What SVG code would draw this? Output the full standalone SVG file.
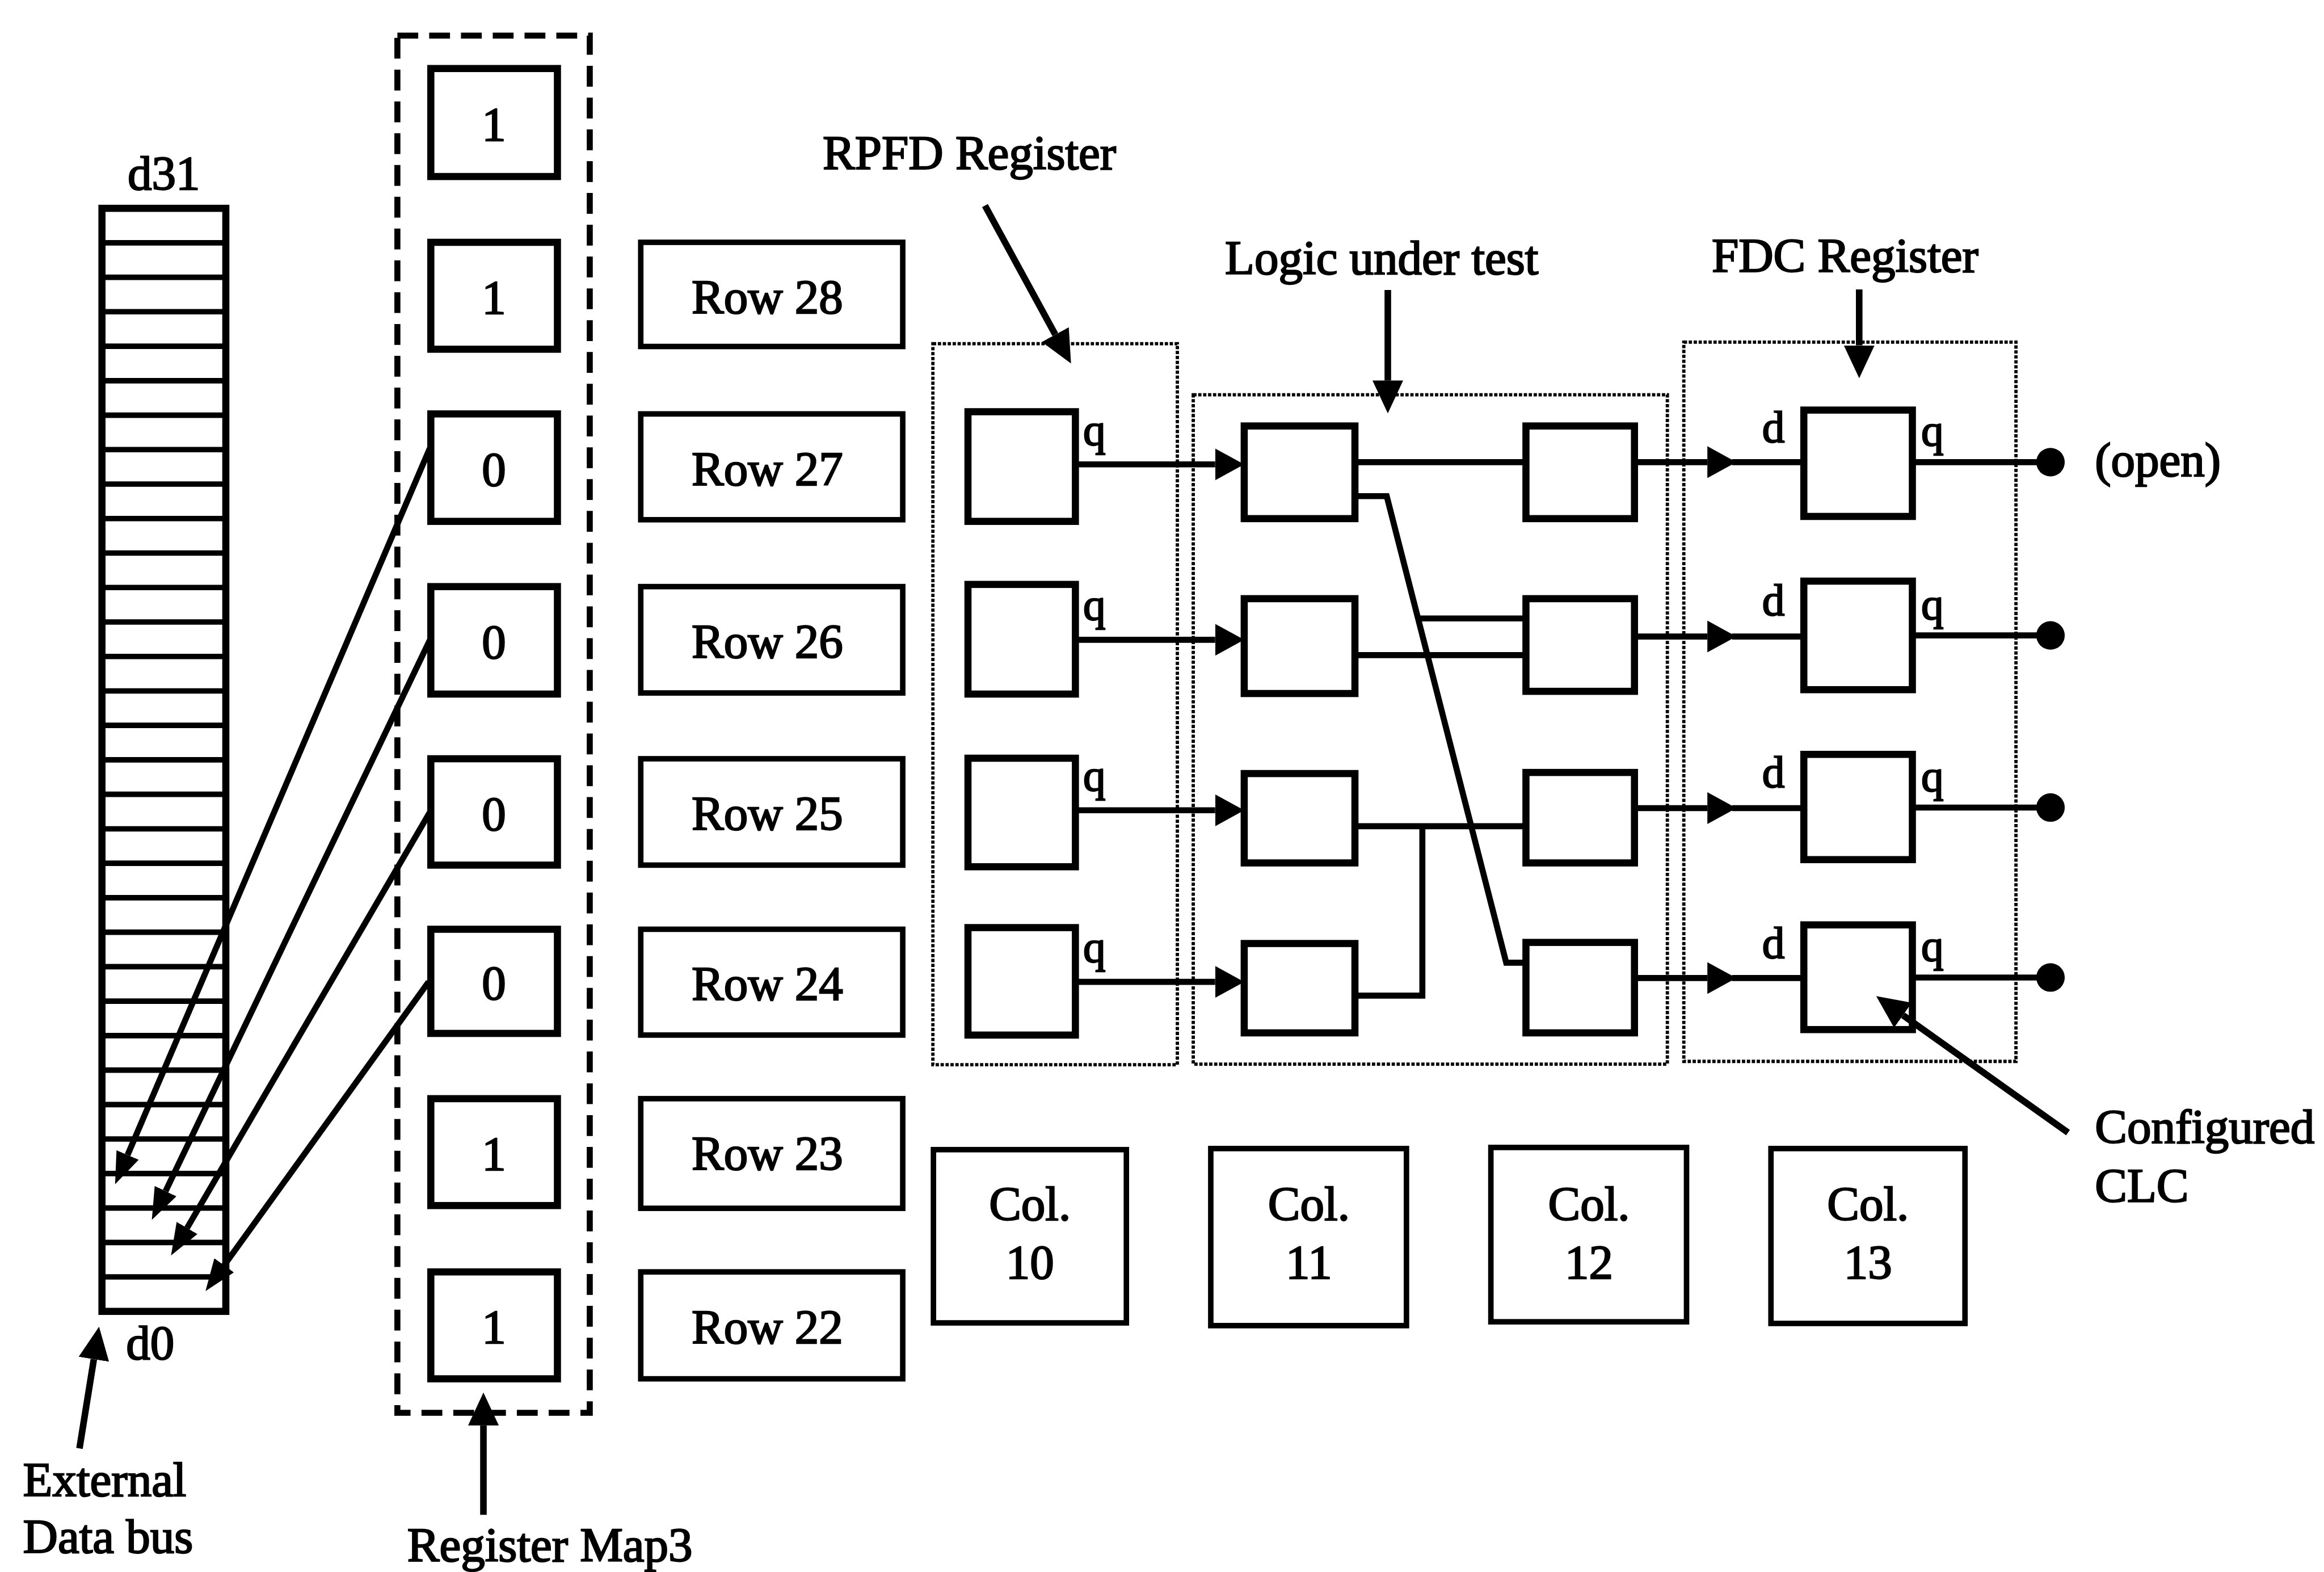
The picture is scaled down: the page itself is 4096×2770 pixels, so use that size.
<svg xmlns="http://www.w3.org/2000/svg" width="4096" height="2770" viewBox="0 0 4096 2770">
<style>
.t{font-family:"Liberation Serif","Times New Roman",serif;font-size:88px;fill:#000;stroke:#000;stroke-width:2.5}
.m{text-anchor:middle}
.s{font-size:82px}
.box{fill:#fff;stroke:#000;stroke-width:13}
.thin{fill:#fff;stroke:#000;stroke-width:10}
.dot{fill:none;stroke:#000;stroke-width:6;stroke-dasharray:6 3}
.dash{fill:none;stroke:#000;stroke-width:11;stroke-dasharray:38 20}
.w{fill:none;stroke:#000;stroke-width:11}
.p{fill:none;stroke:#000;stroke-width:12}
.sep{stroke:#000;stroke-width:10}
</style>
<defs>
<marker id="mA" markerUnits="userSpaceOnUse" markerWidth="53" markerHeight="58" refX="0" refY="29" orient="auto"><path d="M0,0 L53,29 L0,58 z" fill="#000"/></marker>
<marker id="mB" markerUnits="userSpaceOnUse" markerWidth="60" markerHeight="56" refX="0" refY="28" orient="auto"><path d="M0,0 L60,28 L0,56 z" fill="#000"/></marker>
<marker id="mC" markerUnits="userSpaceOnUse" markerWidth="58" markerHeight="44" refX="0" refY="22" orient="auto"><path d="M0,0 L58,22 L0,44 z" fill="#000"/></marker>
</defs>
<rect width="4096" height="2770" fill="#fff"/>
<g transform="scale(0.966038)">

<g id="data-bus">
<rect x="186" y="380" width="226" height="2012" class="box"/>
<g class="sep">
<line x1="186" y1="442.9" x2="412" y2="442.9"/><line x1="186" y1="505.8" x2="412" y2="505.8"/><line x1="186" y1="568.6" x2="412" y2="568.6"/><line x1="186" y1="631.5" x2="412" y2="631.5"/>
<line x1="186" y1="694.4" x2="412" y2="694.4"/><line x1="186" y1="757.3" x2="412" y2="757.3"/><line x1="186" y1="820.1" x2="412" y2="820.1"/><line x1="186" y1="883" x2="412" y2="883"/>
<line x1="186" y1="945.9" x2="412" y2="945.9"/><line x1="186" y1="1008.8" x2="412" y2="1008.8"/><line x1="186" y1="1071.6" x2="412" y2="1071.6"/><line x1="186" y1="1134.5" x2="412" y2="1134.5"/>
<line x1="186" y1="1197.4" x2="412" y2="1197.4"/><line x1="186" y1="1260.3" x2="412" y2="1260.3"/><line x1="186" y1="1323.1" x2="412" y2="1323.1"/><line x1="186" y1="1386" x2="412" y2="1386"/>
<line x1="186" y1="1448.9" x2="412" y2="1448.9"/><line x1="186" y1="1511.8" x2="412" y2="1511.8"/><line x1="186" y1="1574.6" x2="412" y2="1574.6"/><line x1="186" y1="1637.5" x2="412" y2="1637.5"/>
<line x1="186" y1="1700.4" x2="412" y2="1700.4"/><line x1="186" y1="1763.3" x2="412" y2="1763.3"/><line x1="186" y1="1826.1" x2="412" y2="1826.1"/><line x1="186" y1="1889" x2="412" y2="1889"/>
<line x1="186" y1="1951.9" x2="412" y2="1951.9"/><line x1="186" y1="2014.8" x2="412" y2="2014.8"/><line x1="186" y1="2077.6" x2="412" y2="2077.6"/><line x1="186" y1="2140.5" x2="412" y2="2140.5"/>
<line x1="186" y1="2203.4" x2="412" y2="2203.4"/><line x1="186" y1="2266.3" x2="412" y2="2266.3"/><line x1="186" y1="2329.1" x2="412" y2="2329.1"/>
</g>
<text class="t m" x="299" y="346">d31</text>
<text class="t" x="230" y="2479">d0</text>
<text class="t" x="42" y="2729">External</text>
<text class="t" x="42" y="2832">Data bus</text>
</g>

<g id="register-map3">
<rect x="725" y="65" width="351" height="2512" class="dash"/>
<text class="t" x="743" y="2848">Register Map3</text>
</g>
<g id="reg-1"><rect x="786" y="125" width="231" height="197" class="box"/><text class="t m" x="901" y="257">1</text></g>
<g id="reg-2"><rect x="786" y="442" width="231" height="195" class="box"/><text class="t m" x="901" y="572">1</text></g>
<g id="reg-3"><rect x="786" y="755" width="231" height="196" class="box"/><text class="t m" x="901" y="886">0</text></g>
<g id="reg-4"><rect x="786" y="1070" width="231" height="196" class="box"/><text class="t m" x="901" y="1201">0</text></g>
<g id="reg-5"><rect x="786" y="1384" width="231" height="194" class="box"/><text class="t m" x="901" y="1514">0</text></g>
<g id="reg-6"><rect x="786" y="1695" width="231" height="190" class="box"/><text class="t m" x="901" y="1823">0</text></g>
<g id="reg-7"><rect x="786" y="2004" width="231" height="195" class="box"/><text class="t m" x="901" y="2134">1</text></g>
<g id="reg-8"><rect x="786" y="2320" width="231" height="195" class="box"/><text class="t m" x="901" y="2450">1</text></g>

<g id="row-28"><rect x="1169" y="442" width="478" height="190" class="thin"/><text class="t m" x="1400" y="571">Row 28</text></g>
<g id="row-27"><rect x="1169" y="755" width="478" height="193" class="thin"/><text class="t m" x="1400" y="885">Row 27</text></g>
<g id="row-26"><rect x="1169" y="1070" width="478" height="194" class="thin"/><text class="t m" x="1400" y="1200">Row 26</text></g>
<g id="row-25"><rect x="1169" y="1384" width="478" height="194" class="thin"/><text class="t m" x="1400" y="1513">Row 25</text></g>
<g id="row-24"><rect x="1169" y="1695" width="478" height="193" class="thin"/><text class="t m" x="1400" y="1824">Row 24</text></g>
<g id="row-23"><rect x="1169" y="2004" width="478" height="200" class="thin"/><text class="t m" x="1400" y="2133">Row 23</text></g>
<g id="row-22"><rect x="1169" y="2320" width="478" height="195" class="thin"/><text class="t m" x="1400" y="2450">Row 22</text></g>

<g id="rpfd-register">
<rect x="1702" y="627" width="446" height="1315" class="dot"/>
<text class="t" x="1501" y="308">RPFD Register</text>
</g>
<g id="logic-under-test">
<rect x="2177" y="720" width="865" height="1221" class="dot"/>
<text class="t" x="2235" y="500">Logic under test</text>
</g>
<g id="fdc-register">
<rect x="3072" y="624" width="606" height="1312" class="dot"/>
<text class="t" x="3123" y="496">FDC Register</text>
</g>

<g id="rpfd-ff-1"><rect x="1766" y="751" width="196" height="200" class="box"/><text class="t s" x="1976" y="812">q</text></g>
<g id="rpfd-ff-2"><rect x="1766" y="1066" width="196" height="200" class="box"/><text class="t s" x="1976" y="1130">q</text></g>
<g id="rpfd-ff-3"><rect x="1766" y="1383" width="196" height="198" class="box"/><text class="t s" x="1976" y="1442">q</text></g>
<g id="rpfd-ff-4"><rect x="1766" y="1692" width="196" height="196" class="box"/><text class="t s" x="1976" y="1755">q</text></g>

<g id="col11-ff-1"><rect x="2270" y="777" width="202" height="169" class="box"/></g>
<g id="col11-ff-2"><rect x="2270" y="1092" width="202" height="173" class="box"/></g>
<g id="col11-ff-3"><rect x="2270" y="1411" width="202" height="163" class="box"/></g>
<g id="col11-ff-4"><rect x="2270" y="1721" width="202" height="163" class="box"/></g>

<g id="col12-ff-1"><rect x="2784" y="777" width="198" height="169" class="box"/></g>
<g id="col12-ff-2"><rect x="2784" y="1092" width="198" height="169" class="box"/></g>
<g id="col12-ff-3"><rect x="2784" y="1409" width="198" height="165" class="box"/></g>
<g id="col12-ff-4"><rect x="2784" y="1719" width="198" height="165" class="box"/></g>

<g id="fdc-ff-1"><rect x="3291" y="748" width="198" height="194" class="box"/><text class="t s" x="3215" y="806">d</text><text class="t s" x="3505" y="813">q</text></g>
<g id="fdc-ff-2"><rect x="3291" y="1060" width="198" height="198" class="box"/><text class="t s" x="3215" y="1122">d</text><text class="t s" x="3505" y="1129">q</text></g>
<g id="fdc-ff-3"><rect x="3291" y="1376" width="198" height="192" class="box"/><text class="t s" x="3215" y="1436">d</text><text class="t s" x="3505" y="1443">q</text></g>
<g id="fdc-ff-4"><rect x="3291" y="1687" width="198" height="191" class="box"/><text class="t s" x="3215" y="1747">d</text><text class="t s" x="3505" y="1753">q</text></g>

<g id="open-label"><text class="t" x="3822" y="868">(open)</text></g>
<g id="configured-clc"><text class="t" x="3822" y="2085">Configured</text><text class="t" x="3822" y="2192">CLC</text></g>

<g id="col-10"><rect x="1703" y="2097" width="352" height="316" class="thin"/><text class="t m" x="1879" y="2226">Col.</text><text class="t m" x="1879" y="2332">10</text></g>
<g id="col-11"><rect x="2209" y="2095" width="357" height="323" class="thin"/><text class="t m" x="2388" y="2226">Col.</text><text class="t m" x="2388" y="2332">11</text></g>
<g id="col-12"><rect x="2720" y="2093" width="357" height="318" class="thin"/><text class="t m" x="2899" y="2226">Col.</text><text class="t m" x="2899" y="2332">12</text></g>
<g id="col-13"><rect x="3231" y="2095" width="354" height="319" class="thin"/><text class="t m" x="3408" y="2226">Col.</text><text class="t m" x="3408" y="2332">13</text></g>

<g id="connectors">
<path class="w" d="M784,818 L232.8,2106.7" marker-end="url(#mC)"/>
<path class="w" d="M784,1168 L302.1,2172.7" marker-end="url(#mC)"/>
<path class="w" d="M784,1482 L341.3,2239.9" marker-end="url(#mC)"/>
<path class="w" d="M782,1791 L408.9,2308" marker-end="url(#mC)"/>
<path class="p" d="M1797,375 L1925.3,610.3" marker-end="url(#mB)"/>
<path class="p" d="M2532,529 V694" marker-end="url(#mB)"/>
<path class="p" d="M3392,528 V630" marker-end="url(#mB)"/>
<path class="p" d="M882,2763 V2600" marker-end="url(#mB)"/>
<path class="p" d="M145,2642 L171.2,2479.3" marker-end="url(#mB)"/>
<path class="p" d="M3773,2066 L3471.9,1851.8" marker-end="url(#mB)"/>
<path class="w" d="M1962,847 H2217" marker-end="url(#mA)"/>
<path class="w" d="M1962,1167 H2217" marker-end="url(#mA)"/>
<path class="w" d="M1962,1478 H2217" marker-end="url(#mA)"/>
<path class="w" d="M1962,1791 H2217" marker-end="url(#mA)"/>
<path class="w" d="M2472,843 H2784"/>
<path class="w" d="M2472,905 H2530 L2748,1756 H2784"/>
<path class="w" d="M2587,1128 H2784"/>
<path class="w" d="M2472,1195 H2784"/>
<path class="w" d="M2472,1507 H2784"/>
<path class="w" d="M2472,1816 H2595 V1507"/>
<path class="w" d="M2982,843 H3115" marker-end="url(#mA)"/><path class="w" d="M3160,843 H3291"/>
<path class="w" d="M2982,1161 H3115" marker-end="url(#mA)"/><path class="w" d="M3160,1161 H3291"/>
<path class="w" d="M2982,1474 H3115" marker-end="url(#mA)"/><path class="w" d="M3160,1474 H3291"/>
<path class="w" d="M2982,1784 H3115" marker-end="url(#mA)"/><path class="w" d="M3160,1784 H3291"/>
<path class="w" d="M3489,843 H3741"/>
<path class="w" d="M3489,1159 H3741"/>
<path class="w" d="M3489,1473 H3741"/>
<path class="w" d="M3489,1783 H3741"/>
<circle cx="3741" cy="843" r="26"/>
<circle cx="3741" cy="1159" r="26"/>
<circle cx="3741" cy="1473" r="26"/>
<circle cx="3741" cy="1783" r="26"/>
</g>

</g>
</svg>
